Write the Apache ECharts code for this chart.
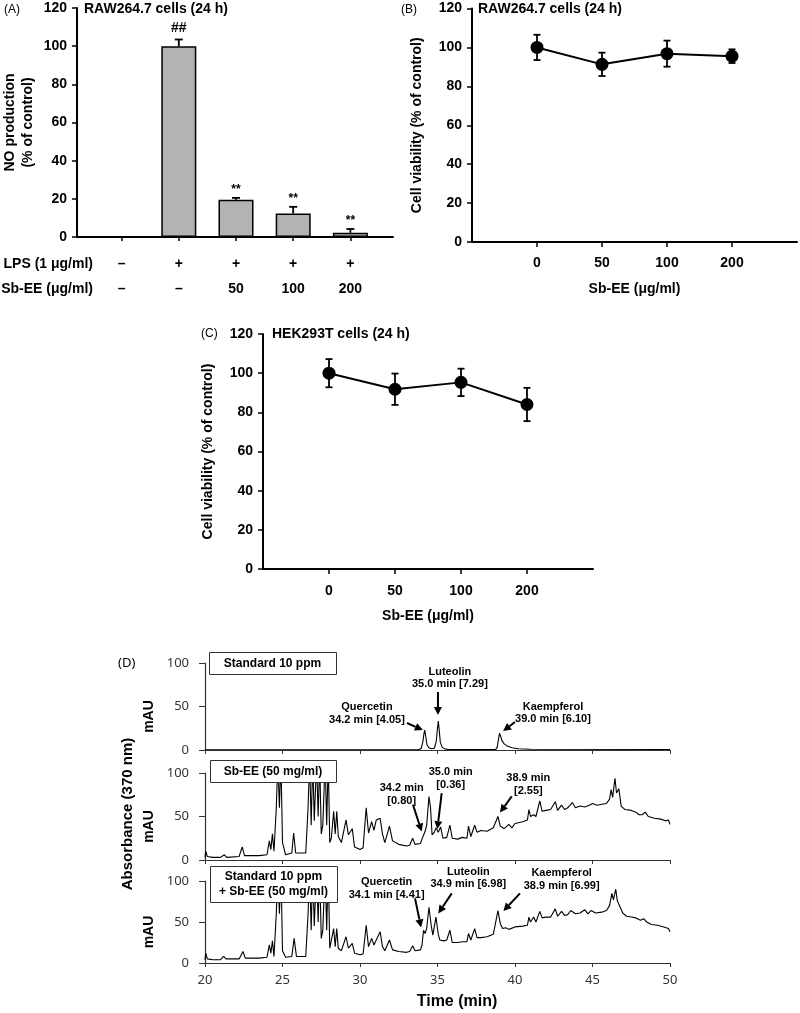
<!DOCTYPE html>
<html><head><meta charset="utf-8">
<script src="https://cdn.jsdelivr.net/npm/echarts@6/dist/echarts.min.js"></script>
<style>html,body{margin:0;padding:0;background:#fff}#c{width:800px;height:1013px}</style>
</head><body><div id="c"></div>
<script>
// ---------- Panel A ----------
const aLps = ['–', '+', '+', '+', '+'];
const aSbee = ['–', '–', '50', '100', '200'];
const aNO = [0, 100, 19.5, 12.3, 2.2];
const aNOErr = [0, 3.5, 1.0, 3.5, 2.0];
const aSig = ['', '##', '**', '**', '**'];
// ---------- Panels B, C ----------
const doseLabels = ['0', '50', '100', '200'];
const bViab = [100, 91.3, 96.8, 95.5];
const bErr = [6.5, 6.0, 6.7, 3.5];
const cViab = [100, 91.8, 95.3, 84.0];
const cErr = [7.2, 8.0, 7.0, 8.5];
// ---------- Panel D (time min, mAU) ----------
const stdTrace = [[20,0.3],[33.8,0.3],[33.95,2],[34.05,9],[34.12,18],[34.17,23],[34.23,17],[34.32,6],[34.45,2.5],[34.6,1.5],[34.8,2],[34.92,10],[35.0,25],[35.05,33.3],[35.1,25],[35.18,9],[35.3,3],[35.5,1],[35.8,0.5],[38.75,0.5],[38.85,3],[38.93,12],[39.0,19.2],[39.07,16],[39.15,11],[39.3,7],[39.5,4.5],[39.8,2.5],[40.2,1.5],[41,0.8],[50,0.5]];
const sbeeTrace = [[20.0,3],[20.05,10],[20.15,4],[20.5,3],[21.0,3],[21.25,6],[21.4,3],[22.2,4],[22.4,15],[22.55,5],[23.5,5],[24.0,6],[24.15,22],[24.25,12],[24.35,30],[24.45,10],[24.6,60],[24.7,115],[24.8,60],[24.9,115],[25.0,20],[25.2,6],[25.6,8],[25.72,31],[25.85,8],[26.5,8],[26.65,60],[26.75,115],[26.85,40],[26.95,115],[27.05,45],[27.2,115],[27.3,50],[27.4,115],[27.5,30],[27.6,40],[27.75,115],[27.85,40],[27.95,115],[28.05,20],[28.15,25],[28.3,56],[28.4,30],[28.5,56],[28.6,27],[28.8,20],[29.1,46],[29.25,29],[29.5,36],[29.65,15],[30.0,12],[30.2,14],[30.4,60],[30.55,31],[30.75,44],[30.9,34],[31.05,46],[31.3,48],[31.45,30],[31.6,20],[31.9,39],[32.1,22],[32.5,18],[33.0,16],[33.2,17],[33.4,25],[33.55,18],[33.9,19],[34.0,24],[34.2,33],[34.3,40],[34.45,73],[34.55,60],[34.65,29],[34.8,32],[34.9,37],[35.05,32],[35.2,38],[35.35,25],[35.6,26],[35.8,40],[35.95,25],[36.3,24],[36.6,26],[36.9,25],[37.0,39],[37.15,27],[37.4,40],[37.55,32],[37.8,34],[38.2,33],[38.6,37],[38.9,50],[39.05,39],[39.3,36],[39.6,41],[39.8,37],[40.0,42],[40.5,44],[40.8,46],[40.9,58],[41.0,50],[41.2,52],[41.35,50],[41.6,68],[41.75,56],[42.0,57],[42.3,58],[42.6,67],[42.75,57],[43.0,63],[43.2,58],[43.4,60],[43.7,66],[43.9,60],[44.2,62],[44.5,61],[44.8,63],[45.0,65],[45.3,63],[45.6,64],[45.9,65],[46.1,70],[46.2,81],[46.3,72],[46.45,94],[46.55,77],[46.7,82],[46.85,62],[47.1,58],[47.5,57],[47.8,55],[48.0,52],[48.2,52],[48.4,55],[48.6,50],[49.0,48],[49.4,47],[49.7,45],[49.9,46],[50.0,41]];
const mixTrace = [[20.0,4],[20.05,12],[20.15,5],[20.5,4],[21.0,4],[21.2,8],[21.35,5],[22.2,5],[22.45,14],[22.6,6],[23.5,6],[24.0,7],[24.15,22],[24.25,12],[24.35,27],[24.45,8],[24.6,60],[24.7,115],[24.8,60],[24.9,115],[25.0,15],[25.2,7],[25.6,8],[25.75,30],[25.9,8],[26.5,8],[26.65,60],[26.75,115],[26.85,40],[26.95,115],[27.05,45],[27.2,115],[27.3,50],[27.4,115],[27.5,30],[27.6,40],[27.75,115],[27.85,40],[27.95,115],[28.05,18],[28.15,20],[28.3,42],[28.4,20],[28.5,42],[28.6,18],[28.8,15],[29.1,32],[29.25,18],[29.5,24],[29.65,12],[30.0,10],[30.2,11],[30.4,46],[30.55,20],[30.75,30],[30.9,22],[31.05,28],[31.3,38],[31.45,20],[31.6,15],[31.9,28],[32.1,16],[32.5,14],[33.0,13],[33.2,14],[33.4,21],[33.55,15],[33.9,16],[34.0,22],[34.1,40],[34.2,36],[34.3,42],[34.45,68],[34.6,45],[34.7,34],[34.9,56],[35.05,35],[35.15,28],[35.4,27],[35.6,28],[35.8,40],[35.95,25],[36.3,25],[36.6,26],[36.9,26],[37.0,36],[37.15,28],[37.4,42],[37.55,31],[37.8,31],[38.2,32],[38.6,35],[38.9,64],[39.05,48],[39.2,42],[39.4,43],[39.6,41],[40.0,44],[40.5,45],[40.8,46],[40.9,56],[41.0,50],[41.2,56],[41.35,50],[41.6,63],[41.75,55],[42.0,56],[42.3,56],[42.6,66],[42.75,57],[43.0,63],[43.2,58],[43.4,59],[43.6,64],[43.9,60],[44.2,61],[44.5,65],[44.7,60],[44.9,64],[45.2,61],[45.6,62],[45.9,64],[46.1,70],[46.25,85],[46.35,77],[46.5,90],[46.6,76],[46.7,78],[46.95,61],[47.2,57],[47.5,56],[47.8,55],[48.1,52],[48.3,54],[48.5,50],[48.8,47],[49.2,46],[49.6,44],[49.9,42],[50.0,38]];
const dNotes = [
  {g:0, text:'Quercetin\n34.2 min [4.05]', at:[30.45,41.7], from:[33.03,31], to:[34.06,23]},
  {g:0, text:'Luteolin\n35.0 min [7.29]', at:[35.8,82.8], from:[35.03,66.7], to:[35.03,40.2]},
  {g:0, text:'Kaempferol\n39.0 min [6.10]', at:[42.45,42.5], from:[40.0,32.2], to:[39.23,21.8]},
  {g:1, text:'34.2 min\n[0.80]', at:[32.69,75.3], from:[33.42,63.5], to:[33.98,32.7]},
  {g:1, text:'35.0 min\n[0.36]', at:[35.85,93.8], from:[35.27,77], to:[34.99,35.5]},
  {g:1, text:'38.9 min\n[2.55]', at:[40.86,86.6], from:[39.79,73.1], to:[39.03,54.6]},
  {g:2, text:'Quercetin\n34.1 min [4.41]', at:[31.72,90.6], from:[33.55,78.8], to:[33.94,43.3]},
  {g:2, text:'Luteolin\n34.9 min [6.98]', at:[36.99,103.7], from:[35.92,84.9], to:[35.05,60.5]},
  {g:2, text:'Kaempferol\n38.9 min [6.99]', at:[43.01,101.6], from:[40.32,84.9], to:[39.25,63.3]}
];
const dBoxes = ['Standard 10 ppm', 'Sb-EE (50 mg/ml)', 'Standard 10 ppm\n+ Sb-EE (50 mg/ml)'];

const BF = "'Liberation Sans', Arial, sans-serif";
const DF = "'Noto Sans', 'Open Sans', sans-serif";
const chart = echarts.init(document.getElementById('c'));

function errSeries(xi, vals, errs, upOnly, cap, sig) {
  return {
    type: 'custom', xAxisIndex: xi, yAxisIndex: xi, z: 3, silent: true,
    data: vals.map((v, i) => [upOnly ? i : i + 1, v, errs[i]]),
    renderItem: function (params, api) {
      const x = api.value(0), v = api.value(1), e = api.value(2);
      const top = api.coord([x, v + e]);
      const bot = api.coord([x, upOnly ? v : v - e]);
      const st = {stroke: '#000', lineWidth: 1.8};
      const ch = [];
      if (e > 0) {
        ch.push({type: 'line', shape: {x1: top[0], y1: top[1], x2: bot[0], y2: bot[1]}, style: st});
        ch.push({type: 'line', shape: {x1: top[0] - cap, y1: top[1], x2: top[0] + cap, y2: top[1]}, style: st});
        if (!upOnly) ch.push({type: 'line', shape: {x1: bot[0] - cap, y1: bot[1], x2: bot[0] + cap, y2: bot[1]}, style: st});
      }
      if (sig && sig[params.dataIndex]) {
        const s = sig[params.dataIndex];
        ch.push({type: 'text', style: {text: s, x: top[0], y: top[1] - (s === '##' ? 4 : 2), align: 'center', verticalAlign: 'bottom',
          font: (s === '##' ? 'bold 14px ' : 'bold 12px ') + BF, fill: '#000'}});
      }
      return {type: 'group', children: ch};
    }
  };
}

function vAxisBase(gi, name, gap) {
  return {
    type: 'value', gridIndex: gi, min: 0, max: 120, interval: 20,
    name: name, nameLocation: 'middle', nameGap: gap, nameRotate: 90,
    nameTextStyle: {fontFamily: BF, fontWeight: 'bold', fontSize: 14, color: '#000', lineHeight: 18},
    axisLine: {show: true, onZero: false, lineStyle: {color: '#000', width: 2}},
    axisTick: {show: true, length: 5, lineStyle: {color: '#000', width: 1.5}},
    axisLabel: {fontFamily: BF, fontWeight: 'bold', fontSize: 14, color: '#000', margin: 10},
    splitLine: {show: false}
  };
}
function doseAxis(gi, margin) {
  return {
    type: 'value', gridIndex: gi, min: 0, max: 5,
    name: 'Sb-EE (μg/ml)', nameLocation: 'middle', nameGap: 40,
    nameTextStyle: {fontFamily: BF, fontWeight: 'bold', fontSize: 14, color: '#000'},
    axisLine: {show: true, onZero: false, lineStyle: {color: '#000', width: 2}},
    axisTick: {show: true, length: 5, customValues: [1, 2, 3, 4], lineStyle: {color: '#000', width: 1.5}},
    axisLabel: {customValues: [1, 2, 3, 4], formatter: v => doseLabels[Math.round(v) - 1],
      fontFamily: BF, fontWeight: 'bold', fontSize: 14, color: '#000', margin: margin},
    splitLine: {show: false}
  };
}
function dX(gi, showLabel) {
  return {
    type: 'value', gridIndex: gi, min: 20, max: 50, interval: 5,
    axisLine: {show: true, onZero: false, lineStyle: {color: '#333', width: 1.2}},
    axisTick: {show: true, length: 4, lineStyle: {color: '#333', width: 1}},
    axisLabel: {show: showLabel, fontFamily: DF, fontSize: 13, color: '#333', margin: 11},
    splitLine: {show: false}
  };
}
function dY(gi) {
  return {
    type: 'value', gridIndex: gi, min: 0, max: 100, interval: 50,
    name: 'mAU', nameLocation: 'middle', nameGap: 42, nameRotate: 90,
    nameTextStyle: {fontFamily: BF, fontWeight: 'bold', fontSize: 14, color: '#000', padding: [0, 20, 0, 0]},
    axisLine: {show: true, onZero: false, lineStyle: {color: '#333', width: 1.2}},
    axisTick: {show: true, length: 6, lineStyle: {color: '#333', width: 1}},
    axisLabel: {fontFamily: DF, fontSize: 13, color: '#333', margin: 16},
    splitLine: {show: false}
  };
}
function lineS(xi, vals) {
  return {type: 'line', xAxisIndex: xi, yAxisIndex: xi, z: 4, data: vals.map((v, i) => [i + 1, v]),
    symbol: 'circle', symbolSize: 13, itemStyle: {color: '#000'}, lineStyle: {color: '#000', width: 2}, silent: true};
}
function traceS(xi, tr) {
  return {type: 'line', xAxisIndex: xi, yAxisIndex: xi, data: tr, symbol: 'none', clip: true, silent: true,
    lineStyle: {color: '#000', width: 1.1}};
}

const option = {
  backgroundColor: '#fff',
  animation: false,
  grid: [
    {left: 74, top: 8, width: 319, height: 229},
    {left: 472, top: 8.5, width: 325, height: 233.5},
    {left: 263, top: 334, width: 330, height: 235},
    {left: 205, top: 663, width: 465, height: 87},
    {left: 205, top: 773, width: 465, height: 87},
    {left: 205, top: 881, width: 465, height: 82}
  ],
  xAxis: [
    {type: 'value', gridIndex: 0, min: -0.78, max: 4.745,
      axisLine: {show: true, onZero: false, lineStyle: {color: '#000', width: 2}},
      axisTick: {show: true, length: 4, customValues: [0, 1, 2, 3, 4], lineStyle: {color: '#000', width: 1.5}},
      axisLabel: {customValues: [0, 1, 2, 3, 4], formatter: v => aLps[Math.round(v)] + '\n' + aSbee[Math.round(v)],
        fontFamily: BF, fontWeight: 'bold', fontSize: 14, color: '#000', lineHeight: 25.5, margin: 14},
      splitLine: {show: false}},
    doseAxis(1, 14),
    doseAxis(2, 15),
    dX(3, false), dX(4, false), dX(5, true)
  ],
  yAxis: [
    vAxisBase(0, 'NO production\n(% of control)', 40),
    vAxisBase(1, 'Cell viability (% of control)', 46),
    vAxisBase(2, 'Cell viability (% of control)', 46),
    dY(3), dY(4), dY(5)
  ],
  series: [
    {type: 'bar', xAxisIndex: 0, yAxisIndex: 0, barWidth: 35, silent: true,
      data: aNO.map((v, i) => [i, v]),
      itemStyle: {color: '#b3b3b3', borderColor: '#000', borderWidth: 1.5}},
    errSeries(0, aNO, aNOErr, true, 4, aSig),
    errSeries(1, bViab, bErr, false, 3.5, null),
    lineS(1, bViab),
    errSeries(2, cViab, cErr, false, 3.5, null),
    lineS(2, cViab),
    traceS(3, stdTrace), traceS(4, sbeeTrace), traceS(5, mixTrace)
  ]
};
chart.setOption(option);

// ---------- annotations ----------
const g = [];
function txt(x, y, s, font, align, extra) {
  return Object.assign({type: 'text', z: 100, style: {text: s, x: x, y: y, font: font, fill: '#000', align: align || 'left', verticalAlign: 'middle'}}, extra || {});
}
const nf = '12px ' + BF;
const bf14 = 'bold 14px ' + BF;
g.push(txt(4, 10, '(A)', nf));
g.push(txt(84, 9, 'RAW264.7 cells (24 h)', bf14));
g.push(txt(93, 264, 'LPS (1 μg/ml)', bf14, 'right'));
g.push(txt(93, 289.5, 'Sb-EE (μg/ml)', bf14, 'right'));
g.push(txt(401, 10, '(B)', nf));
g.push(txt(478, 9, 'RAW264.7 cells (24 h)', bf14));
g.push(txt(201, 334, '(C)', nf));
g.push(txt(272, 334, 'HEK293T cells (24 h)', bf14));
g.push(txt(118, 663, '(D)', '13px ' + DF));
g.push({type: 'text', z: 100, x: 128, y: 814, rotation: Math.PI / 2,
  style: {text: 'Absorbance (370 nm)', x: 0, y: 0, font: 'bold 15px ' + BF, fill: '#000', align: 'center', verticalAlign: 'middle'}});
g.push(txt(457, 1001.7, 'Time (min)', 'bold 16px ' + BF, 'center'));

// legend-like boxes
const boxRects = [[209, 652, 127, 22], [210, 760, 126, 22], [210, 866, 127, 36]];
boxRects.forEach((r, i) => {
  g.push({type: 'rect', z: 100, shape: {x: r[0] + 0.5, y: r[1] + 0.5, width: r[2], height: r[3]},
    style: {fill: '#fff', stroke: '#333', lineWidth: 1}});
  g.push({type: 'text', z: 101, style: {text: dBoxes[i], x: r[0] + r[2] / 2, y: r[1] + r[3] / 2 + 0.5,
    font: 'bold 12px ' + BF, fill: '#000', align: 'center', verticalAlign: 'middle', lineHeight: 15}});
});

dNotes.forEach(n => {
  const ax = {xAxisIndex: n.g + 3, yAxisIndex: n.g + 3};
  const p = chart.convertToPixel(ax, n.at);
  const a = chart.convertToPixel(ax, n.from);
  const b = chart.convertToPixel(ax, n.to);
  g.push({type: 'text', z: 100, style: {text: n.text, x: p[0], y: p[1], font: 'bold 11px ' + BF, fill: '#000',
    align: 'center', verticalAlign: 'middle', lineHeight: 12.7}});
  const dx = b[0] - a[0], dy = b[1] - a[1], L = Math.hypot(dx, dy);
  const ux = dx / L, uy = dy / L, hl = 8, hw = 4;
  const bx = b[0] - ux * hl, by = b[1] - uy * hl;
  g.push({type: 'line', z: 100, shape: {x1: a[0], y1: a[1], x2: bx, y2: by}, style: {stroke: '#000', lineWidth: 2}});
  g.push({type: 'polygon', z: 100, shape: {points: [[b[0], b[1]], [bx - uy * hw, by + ux * hw], [bx + uy * hw, by - ux * hw]]},
    style: {fill: '#000'}});
});
chart.setOption({graphic: g});
</script>
</body></html>
